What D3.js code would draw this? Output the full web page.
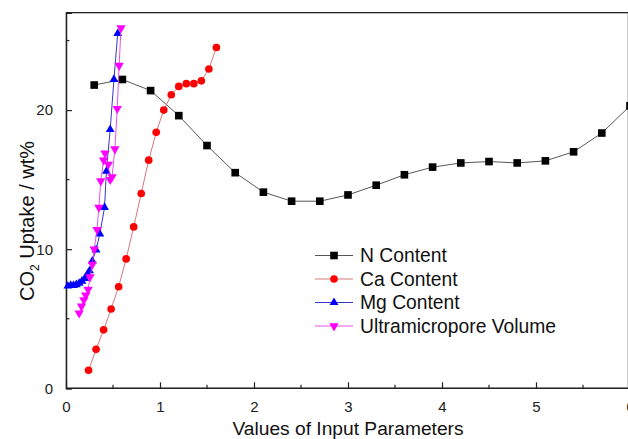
<!DOCTYPE html>
<html><head><meta charset="utf-8">
<script src="https://cdnjs.cloudflare.com/ajax/libs/d3/7.8.5/d3.min.js"></script>
<style>body{margin:0;background:#fff}svg{display:block;font-family:"Liberation Sans",Arial,sans-serif}</style>
</head><body><svg id="c" width="628" height="439"></svg>
<script>
const nX = [0.3,0.6,0.9,1.2,1.5,1.8,2.1,2.4,2.7,3.0,3.3,3.6,3.9,4.2,4.5,4.8,5.1,5.4,5.7,6.0];
const nY = [21.8,22.2,21.4,19.6,17.45,15.5,14.1,13.45,13.45,13.9,14.6,15.35,15.9,16.2,16.3,16.2,16.35,17.0,18.35,20.3];
const caX = [0.24,0.32,0.40,0.48,0.56,0.64,0.72,0.80,0.88,0.96,1.04,1.12,1.20,1.28,1.36,1.44,1.52,1.60];
const caY = [1.3,2.8,4.2,5.7,7.3,9.3,11.6,14.0,16.4,18.4,20.0,21.1,21.7,21.9,21.9,22.1,22.95,24.5];
const mgX = [0.02,0.05,0.08,0.11,0.14,0.17,0.20,0.23,0.25,0.28,0.32,0.36,0.41,0.43,0.47,0.51,0.55];
const mgY = [7.35,7.4,7.4,7.45,7.55,7.7,7.9,8.2,8.45,9.15,9.95,11.1,13.0,15.6,18.6,22.2,25.5];
const uvX = [0.14,0.165,0.19,0.21,0.235,0.255,0.28,0.30,0.33,0.35,0.37,0.40,0.415,0.45,0.47,0.49,0.52,0.545,0.565,0.585];
const uvY = [5.4,5.9,6.35,6.7,7.1,8.0,8.9,10.0,11.4,13.0,14.9,16.4,16.9,16.1,15.0,15.2,17.2,20.1,23.2,25.9];
const xTicks = [0,1,2,3,4,5,6];
const yTicks = [0,10,20];
const seriesNames = ["N Content","Ca Content","Mg Content","Ultramicropore Volume"];
const xTitle = "Values of Input Parameters";

const svg = d3.select("#c");
const L = 66, R = 630, T = 12.7, B = 388.3;
const x = d3.scaleLinear().domain([0,6]).range([L,R]);
const y = d3.scaleLinear().domain([0,27]).range([B,T]);

const series = [
  {xs:nX, ys:nY, line:"#444", fill:"#000", sym:d3.symbolSquare, size:58, rot:0},
  {xs:caX, ys:caY, line:"#d06a6a", fill:"#ff0000", sym:d3.symbolCircle, size:46, rot:0},
  {xs:mgX, ys:mgY, line:"#2020c0", fill:"#0000ff", sym:d3.symbolTriangle, size:34, rot:0},
  {xs:uvX, ys:uvY, line:"#e040e0", fill:"#ff00ff", sym:d3.symbolTriangle, size:38, rot:180}
];

// frame
svg.append("rect").attr("x",L).attr("y",T).attr("width",628-L-0.5).attr("height",B-T)
  .attr("fill","none").attr("stroke","#ccc").attr("stroke-width",1);
svg.append("line").attr("x1",L).attr("x2",628).attr("y1",T).attr("y2",T).attr("stroke","#222").attr("stroke-width",1.3);

// axes with inward ticks
const xAxis = d3.axisBottom(x).tickValues(xTicks).tickSize(-6).tickPadding(13).tickFormat(d3.format("d"));
const gx = svg.append("g").attr("transform",`translate(0,${B})`).call(xAxis);
const yAxis = d3.axisLeft(y).tickValues(yTicks).tickSize(-6).tickPadding(13).tickFormat(d3.format("d"));
const gy = svg.append("g").attr("transform",`translate(${L},0)`).call(yAxis);
[gx,gy].forEach(g=>{
  g.select(".domain").attr("stroke","#222").attr("stroke-width",1.5);
  g.selectAll(".tick line").attr("stroke","#222").attr("stroke-width",1.2);
  g.selectAll(".tick text").attr("font-size",15).attr("fill","#222").attr("font-family","Liberation Sans, Arial, sans-serif");
});
gx.select(".domain").attr("d",`M${L},0H628`);
// minor ticks
const xMinor = d3.range(0.5,6,1);
svg.append("g").selectAll("line").data(xMinor).join("line")
  .attr("x1",d=>x(d)).attr("x2",d=>x(d)).attr("y1",B).attr("y2",B-3.5).attr("stroke","#222").attr("stroke-width",1.2);
const yMinor = [5,15,25];
svg.append("g").selectAll("line").data(yMinor).join("line")
  .attr("y1",d=>y(d)).attr("y2",d=>y(d)).attr("x1",L).attr("x2",L+3.5).attr("stroke","#222").attr("stroke-width",1.2);

// series
const line = d3.line();
series.forEach(s=>{
  const pts = s.xs.map((v,i)=>[x(v),y(s.ys[i])]);
  svg.append("path").attr("d",line(pts)).attr("fill","none").attr("stroke",s.line).attr("stroke-width",0.9);
  svg.append("g").selectAll("path").data(pts).join("path")
    .attr("d",d3.symbol().type(s.sym).size(s.size))
    .attr("transform",d=>`translate(${d[0]},${d[1]})${s.rot?` rotate(${s.rot})`:""}`)
    .attr("fill",s.fill);
});

// legend
const lg = svg.append("g");
const ly0 = 255.5, ldy = 23.5;
series.forEach((s,i)=>{
  const yy = ly0 + i*ldy;
  lg.append("line").attr("x1",315).attr("x2",353).attr("y1",yy).attr("y2",yy).attr("stroke",s.line).attr("stroke-width",0.9);
  lg.append("path").attr("d",d3.symbol().type(s.sym).size(s.size))
    .attr("transform",`translate(334,${yy})${s.rot?` rotate(${s.rot})`:""}`).attr("fill",s.fill);
  lg.append("text").attr("x",360).attr("y",yy+6.5).attr("font-size",19.3).attr("fill","#111").text(seriesNames[i]);
});

// axis titles
svg.append("text").attr("x",348).attr("y",435).attr("text-anchor","middle").attr("font-size",19.2).attr("fill","#111").text(xTitle);
const yt = svg.append("text").attr("transform","translate(34,221) rotate(-90)").attr("text-anchor","middle").attr("font-size",20).attr("fill","#111");
yt.append("tspan").text("CO");
yt.append("tspan").attr("font-size",12).attr("dy",5).text("2");
yt.append("tspan").attr("dy",-5).text(" Uptake / wt%");
</script></body></html>
